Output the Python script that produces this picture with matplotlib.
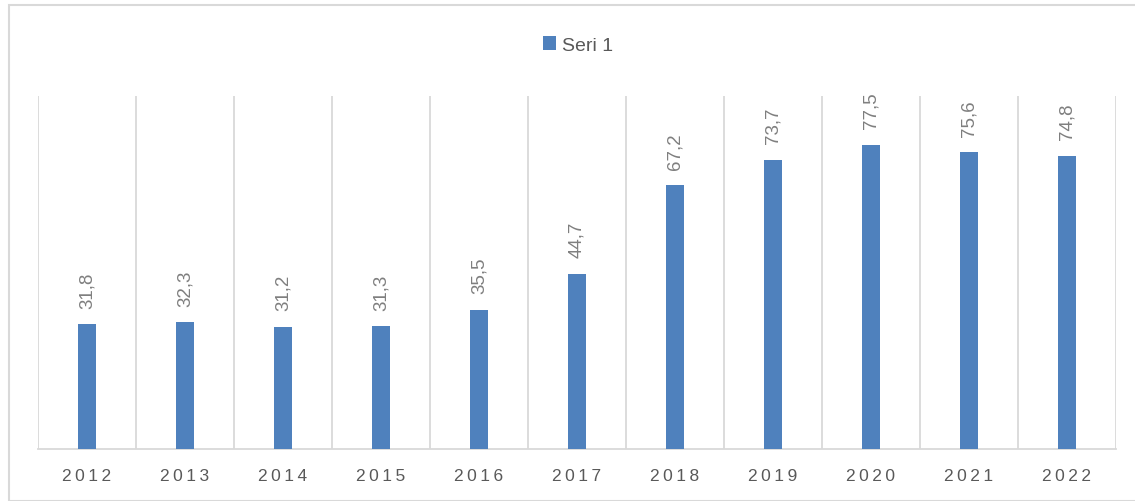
import matplotlib.pyplot as plt
from matplotlib.patches import Rectangle

plt.rcParams["font.family"] = ["Liberation Sans", "DejaVu Sans"]

years = ["2012", "2013", "2014", "2015", "2016", "2017", "2018", "2019", "2020", "2021", "2022"]
values = [31.8, 32.3, 31.2, 31.3, 35.5, 44.7, 67.2, 73.7, 77.5, 75.6, 74.8]
value_labels = ["31,8", "32,3", "31,2", "31,3", "35,5", "44,7", "67,2", "73,7", "77,5", "75,6", "74,8"]

bar_color = "#4F81BD"
grid_color = "#D9D9D9"
text_color = "#595959"

fig = plt.figure(figsize=(11.35, 5.02), dpi=100)
ax = fig.add_axes([38 / 1135, 52 / 502, 1078 / 1135, 353 / 502])

x = list(range(len(years)))
bars = ax.bar(x, values, width=0.185, color=bar_color, label="Seri 1", zorder=3)

for xi, v, lab in zip(x, values, value_labels):
    ax.annotate(lab, (xi, v), xytext=(0, 12), textcoords="offset points",
                rotation=90, ha="center", va="bottom", fontsize=13.5, color="#7F7F7F")

ax.set_xlim(-0.5, len(years) - 0.5)
ax.set_ylim(0, 90)
for b in [i - 0.5 for i in range(len(years) + 1)]:
    ax.axvline(b, color=grid_color, lw=1.3, zorder=1)

ax.set_xticks(x)
ax.set_xticklabels(["\u2009".join(y) for y in years], fontsize=12.5, color=text_color)
ax.tick_params(axis="x", length=0, pad=14)
ax.set_yticks([])
for s in ["top", "left", "right"]:
    ax.spines[s].set_visible(False)
ax.spines["bottom"].set_color(grid_color)
ax.spines["bottom"].set_linewidth(1.3)

fig.legend(handles=[bars], labels=["Seri 1"], loc="center", bbox_to_anchor=(578 / 1135, 1 - 46 / 502),
           frameon=False, fontsize=14, handlelength=0.7, handleheight=0.7, handletextpad=0.3,
           labelcolor=text_color)

fig.patches.append(Rectangle((9 / 1135, 0), 1130 / 1135, 1 - 6 / 502, transform=fig.transFigure,
                             fill=False, edgecolor=grid_color, lw=1.5))

fig.savefig("out.png", dpi=100)
